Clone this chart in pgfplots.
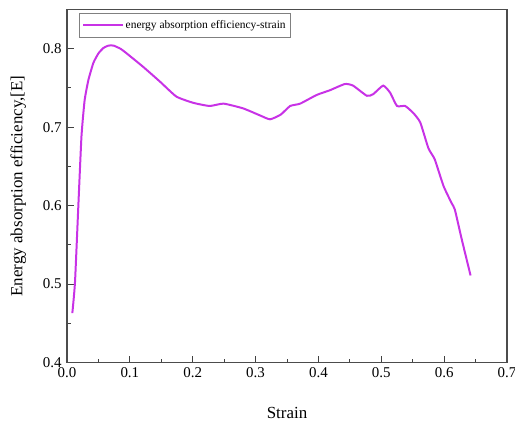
\documentclass[border=0pt]{standalone}
\usepackage{fontspec}
\setmainfont{Liberation Serif}
\usepackage{pgfplots}
\pgfplotsset{compat=1.18}
\definecolor{curve}{RGB}{200,50,230}
\begin{document}
\begin{tikzpicture}
\begin{axis}[
  name=main,
  scale only axis,
  width=440bp, height=353bp,
  xmin=0, xmax=0.7, ymin=0.4, ymax=0.85,
  xtick={0,0.1,...,0.7}, ytick={0.4,0.5,...,0.8},
  minor x tick num=1, minor y tick num=1,
  tick align=inside, tick pos=left,
  major tick length=7bp, minor tick length=4bp,
  every tick/.style={black!75, line width=1pt},
  axis line style={black!70, line width=1.3pt},
  /pgf/number format/fixed,
  /pgf/number format/fixed zerofill,
  /pgf/number format/precision=1,
  /pgf/number format/assume math mode=true,
  ticklabel style={font=\fontsize{15}{17}\selectfont},
  yticklabel style={xshift=-2bp},
  xticklabel style={yshift=-2bp},
  xlabel={Strain}, ylabel={Energy absorption efficiency,[E]},
  label style={font=\fontsize{17}{19}\selectfont},
  xlabel style={yshift=-22bp},
  ylabel style={yshift=10bp},
  legend style={at={(0.027,0.989)}, anchor=north west, draw=black!50,
    font=\fontsize{11.5}{13}\selectfont, inner xsep=3pt, inner ysep=5pt},
  legend image code/.code={\draw[curve, line width=2pt] (0cm,0cm) -- (1.4cm,0cm);},
  legend cell align=left,
]
\addplot[curve, line width=2pt, smooth, tension=0.3] coordinates {
(0.0085,0.463) (0.0127,0.502) (0.018,0.599) (0.023,0.688) (0.028,0.734)
(0.034,0.760) (0.042,0.782) (0.050,0.794) (0.058,0.801) (0.066,0.804)
(0.074,0.804) (0.085,0.800) (0.095,0.794) (0.121,0.777)
(0.148,0.758) (0.174,0.739) (0.201,0.731) (0.227,0.727) (0.249,0.730)
(0.280,0.724) (0.307,0.715) (0.323,0.710) (0.340,0.716) (0.355,0.727)
(0.371,0.730) (0.397,0.741) (0.418,0.747) (0.442,0.755) (0.455,0.753)
(0.477,0.740) (0.487,0.742) (0.503,0.753) (0.514,0.744) (0.525,0.727)
(0.538,0.727) (0.551,0.718) (0.562,0.706) (0.575,0.673) (0.585,0.659)
(0.599,0.625) (0.612,0.603) (0.617,0.595) (0.628,0.557) (0.642,0.511)
};
\addlegendentry{energy absorption efficiency-strain}
\end{axis}
\pgfresetboundingbox
\path[use as bounding box] ([shift={(-67bp,-60bp)}]main.south west) rectangle ([shift={(8bp,9.5bp)}]main.north east);
\end{tikzpicture}
\end{document}
